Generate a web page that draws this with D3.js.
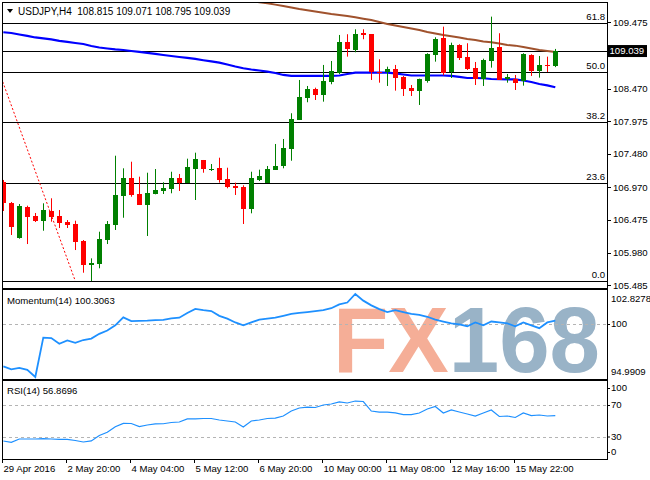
<!DOCTYPE html>
<html><head><meta charset="utf-8">
<script src="https://cdn.jsdelivr.net/npm/d3@7"></script>
<style>
html,body{margin:0;padding:0;background:#fff;}
svg{display:block;font-family:'Liberation Sans',Arial,sans-serif;}
text{white-space:pre;}
</style></head><body>
<svg id="c" width="650" height="480"></svg>
<script>
// ---------- DATA ----------
const symbolTitle = "USDJPY,H4  108.815 109.071 108.795 109.039";
const open = [107.052,106.738,106.202,106.673,106.536,106.460,106.617,106.536,106.450,106.415,
106.157,105.793,105.808,106.172,106.400,106.840,107.113,106.870,106.703,106.870,
106.911,106.946,107.113,107.037,107.249,107.386,107.242,107.269,107.093,106.996,
106.976,106.642,107.083,107.037,107.234,107.300,107.558,107.998,108.331,108.463,
108.372,108.570,108.711,109.172,109.055,109.309,109.294,108.721,108.721,108.762,
108.646,108.483,108.438,108.585,108.979,109.242,108.721,109.131,108.949,108.778,
108.620,108.893,109.101,108.615,108.611,108.580,108.979,108.741,108.828,108.815];
const high = [107.083,106.749,106.718,106.693,106.582,106.729,106.805,106.627,106.475,106.465,
106.172,105.894,106.298,106.460,107.451,107.260,107.360,107.133,107.193,107.249,
107.048,107.208,107.174,107.406,107.497,107.386,107.325,107.421,107.269,107.042,
107.002,107.208,107.239,107.295,107.629,107.705,108.095,108.600,108.509,108.483,
108.828,108.888,109.283,109.294,109.369,109.369,109.294,108.914,108.802,108.828,
108.661,108.524,108.620,109.005,109.248,109.409,109.166,109.142,109.157,108.873,
108.923,109.561,109.309,108.691,108.676,109.005,108.990,108.964,108.954,109.071];
const low = [106.612,106.248,106.192,106.111,106.445,106.313,106.450,106.354,106.354,106.020,
105.676,105.550,105.743,106.111,106.324,106.510,106.829,106.703,106.233,106.865,
106.870,106.881,106.916,107.037,106.779,107.193,107.219,107.042,106.957,106.855,
106.415,106.577,107.067,107.037,107.234,107.260,107.375,107.998,108.262,108.296,
108.271,108.535,108.691,108.954,109.020,109.218,108.600,108.559,108.509,108.438,
108.357,108.357,108.221,108.559,108.878,108.671,108.630,108.903,108.752,108.524,
108.509,108.787,108.600,108.559,108.448,108.514,108.661,108.635,108.721,108.795];
const close = [106.734,106.374,106.688,106.526,106.460,106.627,106.521,106.430,106.400,106.146,
105.793,105.818,106.187,106.415,106.855,107.113,106.855,106.703,106.890,106.931,
106.961,107.113,107.042,107.284,107.401,107.245,107.249,107.083,106.981,106.961,
106.647,107.113,107.148,107.249,107.300,107.568,108.008,108.342,108.459,108.372,
108.585,108.737,109.172,109.075,109.294,109.278,108.721,108.706,108.762,108.635,
108.463,108.438,108.611,108.995,109.222,108.702,109.131,108.938,108.767,108.611,
108.903,109.081,108.600,108.650,108.550,108.990,108.741,108.828,108.817,109.039];
const maBlue = [109.324,109.313,109.290,109.268,109.245,109.230,109.215,109.192,109.177,109.161,
109.146,109.116,109.093,109.078,109.063,109.055,109.040,109.025,109.010,108.995,
108.979,108.964,108.949,108.934,108.919,108.899,108.881,108.863,108.835,108.805,
108.778,108.759,108.744,108.726,108.706,108.676,108.661,108.661,108.661,108.661,
108.661,108.661,108.668,108.691,108.711,108.711,108.711,108.711,108.711,108.699,
108.683,108.668,108.668,108.668,108.668,108.668,108.661,108.646,108.630,108.630,
108.626,108.615,108.611,108.608,108.608,108.592,108.570,108.539,108.517,108.489];
const maBrownStart = 30;
const maBrown = [109.830,109.800,109.779,109.764,109.743,109.723,109.700,109.677,109.658,109.639,
109.621,109.602,109.586,109.571,109.551,109.530,109.511,109.480,109.450,109.427,
109.404,109.381,109.359,109.328,109.306,109.283,109.263,109.245,109.222,109.207,
109.184,109.172,109.154,109.131,109.121,109.101,109.078,109.055,109.040,109.025];
const momentum = [95.994,95.707,95.842,95.663,94.9909,98.708,98.663,98.126,98.439,98.215,
98.484,98.618,99.066,99.380,99.872,100.616,100.275,100.293,100.320,100.365,
100.383,100.526,100.589,101.037,101.422,101.305,101.216,100.768,100.499,100.141,
99.872,100.141,100.410,100.499,100.589,100.768,100.947,101.037,101.126,101.216,
101.305,101.484,101.843,102.022,102.8278,102.201,101.753,101.395,101.126,101.305,
101.126,100.947,100.857,100.678,100.410,100.231,100.051,99.962,99.783,100.141,
99.872,100.231,100.141,100.051,99.783,100.141,99.872,99.604,100.141,100.3063];
const rsi = [24.4,22.7,26.9,26.9,26.9,27.3,26.9,26.5,26.5,25.0,
23.1,24.4,31.4,35.5,42.7,47.0,46.8,42.9,44.9,46.2,
46.5,48.1,48.7,52.6,52.6,53.2,53.2,51.3,50.0,48.7,
42.3,50.0,51.3,53.2,53.8,56.4,62.8,66.7,67.9,67.3,
70.5,71.8,74.4,73.1,75.6,75.0,62.8,61.5,61.5,60.3,
58.3,58.3,60.3,65.4,68.6,60.3,64.1,61.5,59.0,56.4,
60.3,64.1,55.8,56.4,54.5,60.3,57.0,57.7,56.4,56.87];
const priceTicks = [109.475,108.975,108.470,107.975,107.480,106.970,106.475,105.980,105.485];
const hiddenTick = 108.975; // covered by the current-price box in the reference
const fibLow = 105.55, fibHigh = 111.88;
const fibLevels = [0.0, 23.6, 38.2, 50.0, 61.8];
const fibLineBars = [-10, 9];
const momTicks = [102.8278, 100, 94.9909];
const rsiTicks = [100, 70, 30, 0];
const timeLabels = ["29 Apr 2016","2 May 20:00","4 May 04:00","5 May 12:00","6 May 20:00","10 May 00:00","11 May 08:00","12 May 16:00","15 May 22:00"];
const labelStep = 8;
const lastPrice = 109.039;
const momTitle = "Momentum(14) 100.3063";
const rsiTitle = "RSI(14) 56.8696";

// ---------- LAYOUT ----------
const svg = d3.select("#c");
const L = 3, R = 607;
const main = {top: 3, bottom: 288};
const mom = {top: 290, bottom: 379};
const rs = {top: 381, bottom: 459};
const n = close.length;
const x = d3.scaleLinear().domain([0, n - 1]).range([3.3, 3.3 + 8 * (n - 1)]);
const y = d3.scaleLinear().domain([105.485, 109.475]).range([285.3, 22.3]);
const ym = d3.scaleLinear().domain([94.9909, 102.8278]).range([377, 294]);
const yr = d3.scaleLinear().domain([0, 100]).range([460, 382]);
const fontSize = 9.6;

const defs = svg.append("defs");
defs.append("clipPath").attr("id", "cm").append("rect").attr("x", L).attr("y", main.top).attr("width", R - L).attr("height", main.bottom - main.top);
defs.append("clipPath").attr("id", "cmo").append("rect").attr("x", L).attr("y", mom.top).attr("width", R - L).attr("height", mom.bottom - mom.top);
defs.append("clipPath").attr("id", "cr").append("rect").attr("x", L).attr("y", rs.top).attr("width", R - L).attr("height", rs.bottom - rs.top);

// ---------- MAIN PANEL ----------
const gm = svg.append("g").attr("clip-path", "url(#cm)");
const fibPrice = l => fibLow + (fibHigh - fibLow) * l / 100;
gm.selectAll("line.fib").data(fibLevels).enter().append("line")
  .attr("x1", L).attr("x2", R)
  .attr("y1", d => Math.round(y(fibPrice(d))) + 0.5).attr("y2", d => Math.round(y(fibPrice(d))) + 0.5)
  .attr("stroke", "#000").attr("stroke-width", 1);
gm.selectAll("text.fib").data(fibLevels).enter().append("text")
  .attr("x", 605).attr("y", d => y(fibPrice(d)) - 3)
  .attr("text-anchor", "end").attr("font-size", fontSize).attr("fill", "#000")
  .text(d => d.toFixed(1));
gm.append("line").attr("x1", L).attr("x2", R)
  .attr("y1", Math.round(y(lastPrice)) + 0.5).attr("y2", Math.round(y(lastPrice)) + 0.5)
  .attr("stroke", "#000").attr("stroke-width", 1);
gm.append("line")
  .attr("x1", x(fibLineBars[0])).attr("y1", y(fibHigh))
  .attr("x2", x(fibLineBars[1])).attr("y2", y(fibLow))
  .attr("stroke", "#ff0000").attr("stroke-width", 1).attr("stroke-dasharray", "2,2");
const idx = d3.range(n);
gm.append("path").datum(idx)
  .attr("d", d3.line().x(i => x(i)).y(i => y(maBlue[i])))
  .attr("fill", "none").attr("stroke", "#0000ff").attr("stroke-width", 2.2);
gm.append("path").datum(maBrown.map((v, k) => [maBrownStart + k, v]))
  .attr("d", d3.line().x(d => x(d[0])).y(d => y(d[1])))
  .attr("fill", "none").attr("stroke", "#a0522d").attr("stroke-width", 2);
const candles = gm.selectAll("g.c").data(idx).enter().append("g");
const col = i => close[i] >= open[i] ? "#008000" : "#ff0000";
candles.append("line")
  .attr("x1", i => Math.round(x(i)) + 0.5).attr("x2", i => Math.round(x(i)) + 0.5)
  .attr("y1", i => y(high[i])).attr("y2", i => y(low[i]))
  .attr("stroke", col).attr("stroke-width", 1);
candles.append("rect")
  .attr("x", i => Math.round(x(i)) - 2).attr("width", 5)
  .attr("y", i => y(Math.max(open[i], close[i])))
  .attr("height", i => Math.max(1, Math.abs(y(open[i]) - y(close[i]))))
  .attr("fill", col).attr("shape-rendering", "crispEdges");

// title
svg.append("path").attr("d", "M7,9 L13,9 L10,13 Z").attr("fill", "#000");
svg.append("text").attr("x", 18).attr("y", 14.5).attr("font-size", fontSize + 0.4).attr("fill", "#000").text(symbolTitle);

// price axis
const pa = svg.append("g");
pa.selectAll("line").data(priceTicks).enter().append("line")
  .attr("x1", R).attr("x2", R + 4).attr("y1", d => Math.round(y(d)) + 0.5).attr("y2", d => Math.round(y(d)) + 0.5)
  .attr("stroke", "#000");
pa.selectAll("text").data(priceTicks.filter(d => d !== hiddenTick)).enter().append("text")
  .attr("x", 613).attr("y", d => y(d)).attr("dy", "0.35em")
  .attr("font-size", fontSize).attr("fill", "#000").text(d => d.toFixed(3));
const py = y(lastPrice);
svg.append("rect").attr("x", 608).attr("y", py - 6).attr("width", 39).attr("height", 12).attr("fill", "#000");
svg.append("text").attr("x", 609.5).attr("y", py).attr("dy", "0.35em").attr("font-size", fontSize).attr("fill", "#fff").text(lastPrice.toFixed(3));

// ---------- MOMENTUM ----------
const gmo = svg.append("g").attr("clip-path", "url(#cmo)");
const wm = gmo.append("text").attr("x", 333).attr("y", 372).attr("font-size", 92).attr("font-weight", "bold")
  .attr("textLength", 267).attr("lengthAdjust", "spacingAndGlyphs").attr("opacity", 0.9);
wm.append("tspan").attr("fill", "#f4a68c").text("FX");
wm.append("tspan").attr("fill", "#8eabc2").text("168");
gmo.append("line").attr("x1", L).attr("x2", R).attr("y1", Math.round(ym(100)) + 0.5).attr("y2", Math.round(ym(100)) + 0.5)
  .attr("stroke", "#b4b4b4").attr("stroke-dasharray", "3,3");
gmo.append("path").datum(idx).attr("d", d3.line().x(i => x(i)).y(i => ym(momentum[i])))
  .attr("fill", "none").attr("stroke", "#1e90ff").attr("stroke-width", 1.8);
svg.append("text").attr("x", 7).attr("y", 301).attr("dy", "0.35em").attr("font-size", fontSize).attr("fill", "#000").text(momTitle);
const momLabelY = [299, 324, 372];
svg.selectAll("text.mt").data(momTicks).enter().append("text")
  .attr("x", 611).attr("y", (d, k) => momLabelY[k]).attr("dy", "0.35em")
  .attr("font-size", fontSize).attr("fill", "#000").text(d => d === 100 ? "100" : d.toFixed(4));
svg.append("line").attr("x1", R).attr("x2", R + 3).attr("y1", Math.round(ym(100)) + 0.5).attr("y2", Math.round(ym(100)) + 0.5).attr("stroke", "#000");

// ---------- RSI ----------
const gr = svg.append("g").attr("clip-path", "url(#cr)");
gr.selectAll("line.lv").data([70, 30]).enter().append("line")
  .attr("x1", L).attr("x2", R).attr("y1", d => Math.round(yr(d)) + 0.5).attr("y2", d => Math.round(yr(d)) + 0.5)
  .attr("stroke", "#b4b4b4").attr("stroke-dasharray", "3,3");
gr.append("path").datum(idx).attr("d", d3.line().x(i => x(i)).y(i => yr(rsi[i])))
  .attr("fill", "none").attr("stroke", "#1e90ff").attr("stroke-width", 1.2);
svg.append("text").attr("x", 7).attr("y", 391).attr("dy", "0.35em").attr("font-size", fontSize).attr("fill", "#000").text(rsiTitle);
const rsiLabelY = [388, 405, 436.5, 452];
svg.selectAll("text.rt").data(rsiTicks).enter().append("text")
  .attr("x", 611).attr("y", (d, k) => rsiLabelY[k]).attr("dy", "0.35em")
  .attr("font-size", fontSize).attr("fill", "#000").text(d => d);
svg.selectAll("line.rtk").data(rsiTicks).enter().append("line")
  .attr("x1", R).attr("x2", R + 3).attr("y1", (d, k) => rsiLabelY[k] + 0.5).attr("y2", (d, k) => rsiLabelY[k] + 0.5).attr("stroke", "#000");

// ---------- FRAMES ----------
[[main.top, main.bottom], [mom.top, mom.bottom], [rs.top, rs.bottom]].forEach(([t, b]) => {
  svg.append("rect").attr("x", L - 0.5).attr("y", t - 0.5).attr("width", R - L + 1).attr("height", b - t + 1)
    .attr("fill", "none").attr("stroke", "#000").attr("stroke-width", 1);
});

// ---------- TIME AXIS ----------
const ta = svg.append("g");
ta.selectAll("line").data(timeLabels).enter().append("line")
  .attr("x1", (d, k) => Math.round(x(k * labelStep)) - 0.5).attr("x2", (d, k) => Math.round(x(k * labelStep)) - 0.5)
  .attr("y1", rs.bottom).attr("y2", rs.bottom + 4).attr("stroke", "#000");
ta.selectAll("text").data(timeLabels).enter().append("text")
  .attr("x", (d, k) => Math.round(x(k * labelStep)) + 0.5).attr("y", 468.5).attr("dy", "0.35em")
  .attr("font-size", fontSize).attr("fill", "#000").text(d => d);
</script>
</body></html>
